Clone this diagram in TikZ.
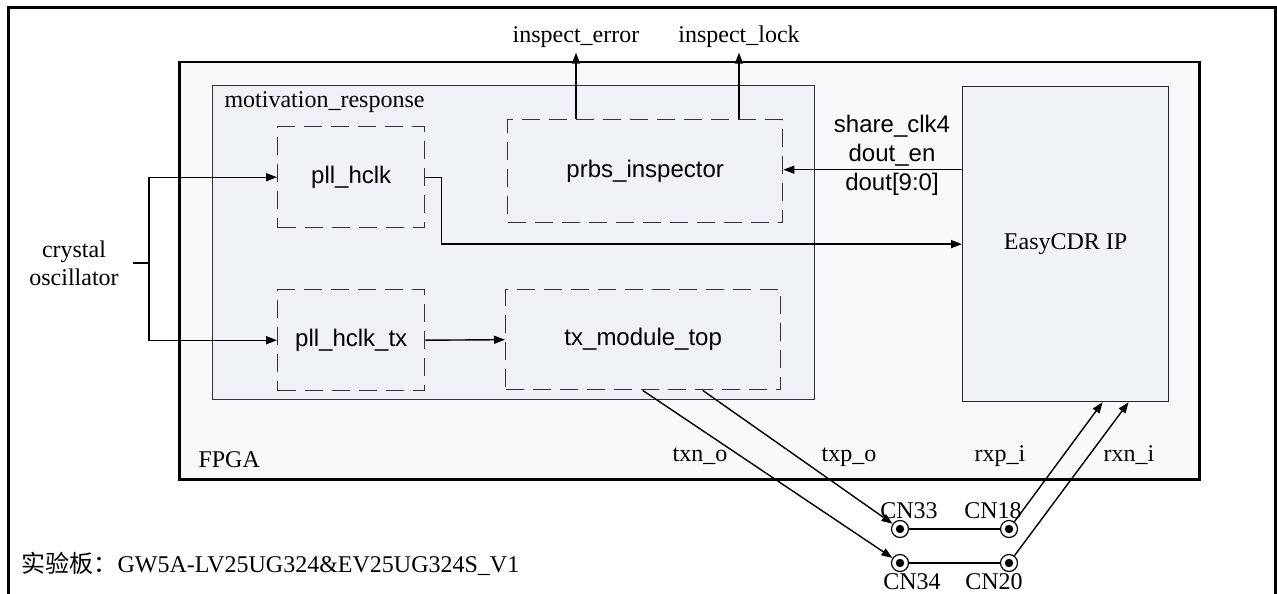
\documentclass[tikz,border=0pt]{standalone}
\usepackage{fontspec}
\setmainfont{Liberation Serif}
\newfontfamily\sansf{Liberation Sans}
\newfontfamily\cjk{Noto Sans CJK SC}
\usetikzlibrary{arrows.meta}
\definecolor{fpgabg}{HTML}{F8F9FB}
\definecolor{mrbg}{HTML}{EFF3F7}
\definecolor{cdrbg}{HTML}{F0F3F7}
\definecolor{dashc}{HTML}{333333}
\tikzset{
  every node/.style={font=\fontsize{24}{28}\selectfont},
  box/.style={draw, inner sep=0pt, anchor=north west},
  blk/.style={draw=dashc, dash pattern=on 18pt off 9pt, line width=1.4pt, fill=mrbg,
     inner sep=0pt, anchor=north west, minimum width=#1,
     font=\sansf\fontsize{24}{28}\selectfont},
  arr/.style={line width=1.4pt, -{Triangle[length=11pt,width=8pt]}},
  wire/.style={line width=1.4pt},
  conn/.style={circle, draw, line width=1.2pt, fill=white, minimum size=17pt, inner sep=0pt,
     path picture={\fill[black] (path picture bounding box.center) circle (4.2pt);}},
  lbl/.style={anchor=base},
}
\begin{document}
\begin{tikzpicture}[x=1pt,y=-1pt]
\useasboundingbox (0,0) rectangle (1277,594);
\fill[white] (0,0) rectangle (1277,594);
% outer board frame
\draw[line width=3pt] (8,600) -- (8,8) -- (1275,8) -- (1275,600);
% FPGA
\node[box, line width=2.5pt, fill=fpgabg, minimum width=1020pt, minimum height=417pt] (fpga) at (178,61) {};
\node[anchor=base west] (fpgalbl) at (195,467) {FPGA};
% motivation_response
\node[box, draw=black!80, line width=1.3pt, fill=mrbg, minimum width=602pt, minimum height=314pt] (mr) at (212,85) {};
\node[anchor=base west] (mrlbl) at (221,107) {motivation\_response};
% inner blocks
\node[blk=147pt, minimum height=101pt] (pll) at (277,126) {pll\_hclk};
\node[blk=147pt, minimum height=101pt] (plltx) at (277,289) {pll\_hclk\_tx};
\node[blk=275pt, minimum height=103pt] (prbs) at (507,119) {prbs\_inspector};
\node[blk=275pt, minimum height=100pt] (tx) at (505,289) {tx\_module\_top};
% EasyCDR IP
\node[box, draw=black!85, line width=1.2pt, fill=cdrbg, minimum width=206pt, minimum height=315pt] (cdr) at (962,86) {EasyCDR IP};
% crystal oscillator
\node[align=center] (xtal) at (74,263) {crystal\\oscillator};
\coordinate (xs) at (133,263);
\coordinate (xj) at (149,263);
\draw[wire] (xs) -- (xj);
\draw[arr] (xj) |- (pll.west);
\draw[arr] (xj) |- (plltx.west);
% pll_hclk -> EasyCDR
\draw[arr] (pll.east) -- ++(16,0) |- (cdr.west);
% EasyCDR -> prbs
\draw[arr] ([yshift=1.5pt]prbs.east -| cdr.west) -- ([yshift=1.5pt]prbs.east);
\node[align=center, font=\sansf\fontsize{24}{29}\selectfont] (sig) at (892,155) {share\_clk4\\dout\_en\\dout[9:0]};
% inspect outputs
\node[lbl] (ie) at (576,43) {inspect\_error};
\node[lbl] (il) at (739,43) {inspect\_lock};
\draw[arr] (prbs.north -| ie.south) -- ([yshift=-1pt]ie.south);
\draw[arr] (prbs.north -| il.south) -- ([yshift=-1pt]il.south);
% pll_hclk_tx -> tx_module_top
\draw[arr] (plltx.east) -- (tx.west);
% connectors
\node[conn] (cn33) at (900,529) {};
\node[conn] (cn18) at (1009,529) {};
\node[conn] (cn34) at (900,563) {};
\node[conn] (cn20) at (1009,563) {};
\node[lbl] (l33) at (909,518) {CN33};
\node[lbl] (l18) at (993,518) {CN18};
\node[lbl] (l34) at (912,589) {CN34};
\node[lbl] (l20) at (994,589) {CN20};
\draw[wire] (cn33) -- (cn18);
\draw[wire] (cn34) -- (cn20);
\draw[arr] ([xshift=-0.5pt]tx.south) -- (cn34);
\draw[arr] ([xshift=59.5pt]tx.south) -- (cn33);
\draw[arr] (cn18) -- ([xshift=37pt]cdr.south);
\draw[arr] (cn20) -- ([xshift=63pt]cdr.south);
% pin labels
\node[lbl] (txn) at (700,461) {txn\_o};
\node[lbl] (txp) at (849,461) {txp\_o};
\node[lbl] (rxp) at (1000,461) {rxp\_i};
\node[lbl] (rxn) at (1129,461) {rxn\_i};
% board label
\node[anchor=base west] (board) at (18,572) {{\cjk 实验板：}GW5A-LV25UG324\&EV25UG324S\_V1};
\end{tikzpicture}
\end{document}
